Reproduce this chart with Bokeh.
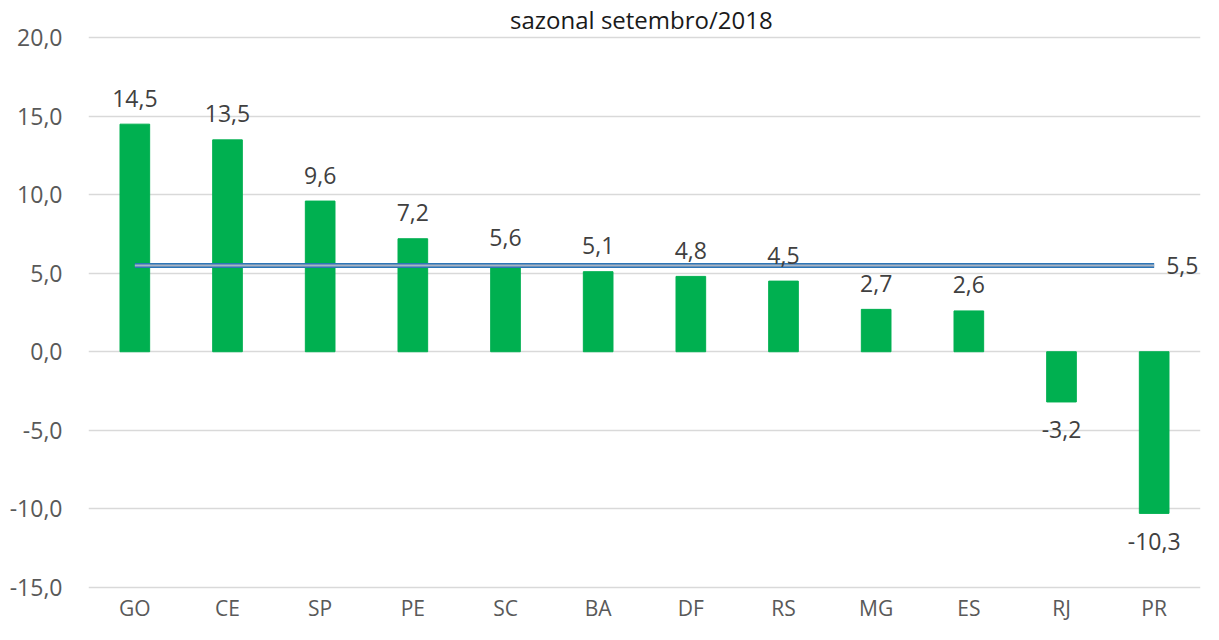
from bokeh.plotting import figure
from bokeh.models import ColumnDataSource, Range1d, FactorRange, CustomJSTickFormatter, FixedTicker, LabelSet
from bokeh.core.properties import value
from bokeh.embed import file_html
from bokeh.resources import INLINE

categories = ["GO", "CE", "SP", "PE", "SC", "BA", "DF", "RS", "MG", "ES", "RJ", "PR"]
values = [14.5, 13.5, 9.6, 7.2, 5.6, 5.1, 4.8, 4.5, 2.7, 2.6, -3.2, -10.3]
average = 5.5
y_ticks = [-15, -10, -5, 0, 5, 10, 15, 20]
title_text = "sazonal  setembro/2018"


def fmt(v):
    return f"{v:.1f}".replace(".", ",")


FONT = "Open Sans"
PAD = 0.15  # small margin so the outer gridlines are not clipped

p = figure(
    x_range=FactorRange(factors=categories, range_padding=0),
    y_range=Range1d(min(y_ticks) - PAD, max(y_ticks) + PAD),
    width=1203, height=624,
    output_backend="svg", toolbar_location=None,
    min_border_left=88, min_border_right=3, min_border_top=25, min_border_bottom=34,
    title=title_text,
)
p.title.align = "center"
p.title.text_font = FONT
p.title.text_font_size = "24px"
p.title.text_font_style = "normal"
p.title.text_color = "#1a1a1a"
p.title.standoff = 0
p.title.offset = -5

p.outline_line_color = None
p.background_fill_color = "white"
p.border_fill_color = "white"
p.xgrid.visible = False
p.ygrid.grid_line_color = "#D9D9D9"
p.ygrid.grid_line_width = 1.3

ax = p.yaxis[0]
ax.ticker = FixedTicker(ticks=y_ticks)
ax.formatter = CustomJSTickFormatter(code="return tick.toFixed(1).replace('.', ',');")
ax.axis_line_color = None
ax.major_tick_line_color = None
ax.minor_tick_line_color = None
ax.major_tick_out = 0
ax.major_label_standoff = 26
ax.major_label_text_font = FONT
ax.major_label_text_font_size = "23px"
ax.major_label_text_color = "#595959"

xax = p.xaxis[0]
xax.axis_line_color = None
xax.major_tick_line_color = None
xax.minor_tick_line_color = None
xax.major_tick_out = 0
xax.major_label_standoff = 4
xax.major_label_text_font = FONT
xax.major_label_text_font_size = "21px"
xax.major_label_text_color = "#595959"

src = ColumnDataSource(dict(cat=categories, val=values, lab=[fmt(v) for v in values]))
p.vbar(x="cat", top="val", bottom=0, width=0.32, color="#00B050", source=src)

# average line
p.line(x=[categories[0], categories[-1]], y=[average, average], line_color="#2E75B6", line_width=5)
p.line(x=[categories[0], categories[-1]], y=[average, average], line_color="#A9B4C2", line_width=2)

label_style = dict(text_font=value(FONT), text_baseline="middle")

avg_src = ColumnDataSource(dict(cat=[categories[-1]], y=[average], lab=[fmt(average)]))
p.add_layout(LabelSet(x="cat", y="y", text="lab", source=avg_src, x_offset=12, y_offset=0,
                      text_align="left", text_font_size="23px", text_color="#404040", **label_style))

pos = [i for i, v in enumerate(values) if v >= 0]
neg = [i for i, v in enumerate(values) if v < 0]
src_pos = ColumnDataSource(dict(cat=[categories[i] for i in pos], val=[values[i] for i in pos],
                                lab=[fmt(values[i]) for i in pos]))
src_neg = ColumnDataSource(dict(cat=[categories[i] for i in neg], val=[values[i] for i in neg],
                                lab=[fmt(values[i]) for i in neg]))
p.add_layout(LabelSet(x="cat", y="val", text="lab", source=src_pos, y_offset=26, text_align="center",
                      text_font_size="23px", text_color="#404040", **label_style))
p.add_layout(LabelSet(x="cat", y="val", text="lab", source=src_neg, y_offset=-28, text_align="center",
                      text_font_size="23px", text_color="#404040", **label_style))

open("out.html", "w").write(file_html(p, INLINE))
